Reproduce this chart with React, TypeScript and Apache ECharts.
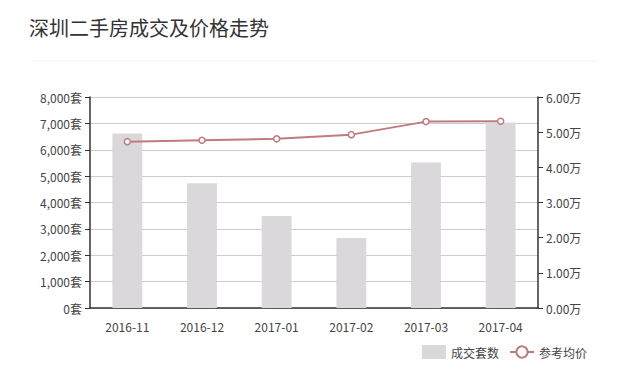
import React, { useEffect, useRef } from "react";
import * as echarts from "echarts";

const months = ["2016-11", "2016-12", "2017-01", "2017-02", "2017-03", "2017-04"];
const deals = [6620, 4730, 3490, 2650, 5520, 7030];
const avgPrice = [4.73, 4.77, 4.81, 4.93, 5.3, 5.31];
const seriesNames = ["成交套数", "参考均价"];
const titleText = "深圳二手房成交及价格走势";

export default function App() {
  const ref = useRef<HTMLDivElement>(null);
  useEffect(() => {
    const chart = echarts.init(ref.current!, null, { renderer: "svg" });
    const font = "'Noto Sans CJK SC', 'Noto Sans', sans-serif";
    chart.setOption({
      animation: false,
      backgroundColor: "#ffffff",
      textStyle: { fontFamily: font },
      title: {
        text: titleText,
        left: 24,
        top: 12,
        textStyle: { fontSize: 20, fontWeight: "normal", color: "#333333", fontFamily: font },
      },
      graphic: [
        {
          type: "line",
          shape: { x1: 33, y1: 61, x2: 598, y2: 61 },
          style: { stroke: "#f2f2f2", lineWidth: 1 },
        },
      ],
      legend: {
        right: 28,
        top: 340,
        itemWidth: 24,
        itemHeight: 14,
        itemGap: 10,
        textStyle: { fontSize: 12, color: "#444444", fontFamily: font },
        data: [
          { name: seriesNames[0], icon: "rect" },
          { name: seriesNames[1] },
        ],
      },
      grid: { left: 90, right: 82, top: 97, bottom: 82 },
      xAxis: {
        type: "category",
        data: months,
        axisLine: { lineStyle: { color: "#333333", width: 1.5 } },
        axisTick: { lineStyle: { color: "#333333" } },
        axisLabel: { color: "#444444", fontSize: 12, margin: 12 },
      },
      yAxis: [
        {
          type: "value",
          min: 0,
          max: 8000,
          interval: 1000,
          axisLine: { show: true, lineStyle: { color: "#333333", width: 1.5 } },
          axisTick: { show: true, lineStyle: { color: "#333333" } },
          axisLabel: {
            color: "#444444",
            fontSize: 12,
            formatter: (v: number) => v.toLocaleString("en-US") + "套",
          },
          splitLine: { lineStyle: { color: "#cccccc" } },
        },
        {
          type: "value",
          min: 0,
          max: 6,
          interval: 1,
          axisLine: { show: true, lineStyle: { color: "#333333", width: 1.5 } },
          axisTick: { show: true, lineStyle: { color: "#333333" } },
          axisLabel: {
            color: "#444444",
            fontSize: 12,
            formatter: (v: number) => v.toFixed(2) + "万",
          },
          splitLine: { show: false },
        },
      ],
      series: [
        {
          name: seriesNames[0],
          type: "bar",
          data: deals,
          barWidth: "40%",
          itemStyle: { color: "#dad8da" },
        },
        {
          name: seriesNames[1],
          type: "line",
          yAxisIndex: 1,
          data: avgPrice,
          symbol: "circle",
          symbolSize: 6,
          lineStyle: { color: "#c07b7e", width: 2 },
          itemStyle: { color: "#ffffff", borderColor: "#c07b7e", borderWidth: 1.5 },
        },
      ],
    });
    return () => chart.dispose();
  }, []);
  return <div ref={ref} style={{ width: 620, height: 390, margin: -8 }} />;
}
